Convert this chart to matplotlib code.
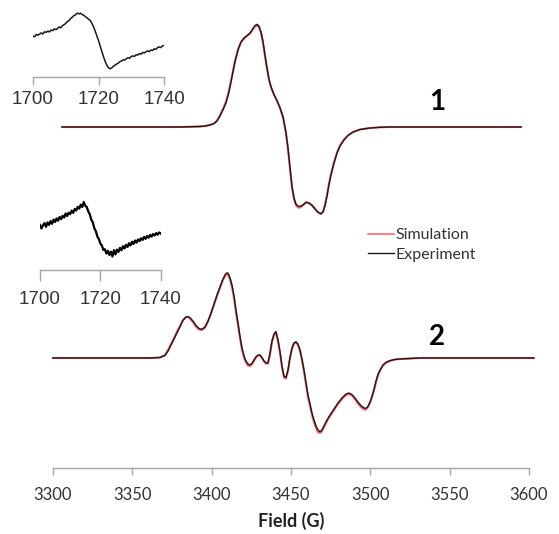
import matplotlib
matplotlib.use("Agg")
import matplotlib.pyplot as plt
from matplotlib.lines import Line2D

W, H = 559, 534

# ---------------- data ----------------
# Spectrum 1 (field in G, intensity in arbitrary units relative to baseline)
field_1 = [3305.7, 3380.0, 3392.6, 3395.8, 3398.9, 3401.5, 3403.4, 3405.2, 3407.1, 3409.0,
           3410.9, 3412.8, 3414.7, 3416.6, 3418.5, 3420.4, 3422.3, 3424.2, 3426.1, 3427.3,
           3428.6, 3429.8, 3431.1, 3432.4, 3433.6, 3434.9, 3436.1, 3437.4, 3439.3, 3441.2,
           3443.1, 3445.0, 3446.8, 3448.1, 3449.4, 3450.6, 3451.9, 3453.1, 3454.4, 3455.7,
           3457.6, 3459.5, 3461.3, 3463.2, 3465.1, 3467.0, 3468.9, 3470.2, 3471.4, 3472.7,
           3473.9, 3475.2, 3477.1, 3479.0, 3480.9, 3483.4, 3485.9, 3489.1, 3493.5, 3499.8,
           3506.1, 3512.4, 3595.0]
exp_1 = [0, 0, 0.5, 1, 2, 3.5, 6, 11, 17, 24,
         35, 50, 65, 77, 85, 89, 91.5, 94, 98.5, 101.5,
         102.7, 101, 95, 85, 72, 59, 48, 40, 32, 26,
         19, 10, -5, -21, -41, -59, -71, -77, -79, -79.5,
         -78, -75.5, -76, -78.5, -82, -85.5, -87, -85, -79, -69,
         -58, -48, -36, -26, -19, -13, -8.5, -5, -2.5, -1,
         -0.3, 0, 0]
sim_1 = [0, 0, 0.5, 1, 2, 3.5, 6.5, 11.5, 18, 25,
         36, 51, 66, 77.5, 85, 88.5, 91, 93.5, 98, 100.5,
         101.5, 100, 94, 84, 71, 58, 47.5, 40, 32.5, 26.5,
         19, 9.5, -6, -22, -42, -60, -72, -78, -80.5, -80.5,
         -78, -75, -76, -78, -81.5, -85, -86.5, -84.5, -78, -68,
         -57, -47, -35.5, -25.5, -18.5, -12.5, -8.5, -5, -2.5, -1,
         -0.3, 0, 0]

# Spectrum 2
field_2 = [3300.0, 3361.1, 3367.4, 3370.6, 3372.5, 3374.4, 3376.3, 3378.1, 3380.0, 3381.9,
           3383.8, 3385.1, 3386.3, 3388.2, 3390.1, 3392.0, 3393.9, 3395.8, 3397.7, 3399.6,
           3401.5, 3403.4, 3405.3, 3407.1, 3409.0, 3410.3, 3411.6, 3412.8, 3414.1, 3415.3,
           3416.6, 3417.9, 3419.1, 3420.4, 3421.6, 3422.9, 3424.2, 3425.4, 3426.7, 3427.9,
           3429.2, 3430.5, 3431.7, 3433.0, 3434.2, 3435.5, 3436.8, 3438.0, 3439.3, 3440.5,
           3441.8, 3443.1, 3444.3, 3445.6, 3446.8, 3448.1, 3449.4, 3450.6, 3451.9, 3453.1,
           3454.4, 3455.7, 3456.9, 3458.2, 3459.5, 3460.7, 3462.0, 3463.2, 3464.5, 3465.8,
           3467.0, 3468.3, 3469.5, 3470.8, 3472.7, 3474.6, 3477.1, 3479.6, 3482.1, 3484.7,
           3486.6, 3488.4, 3490.3, 3492.2, 3494.1, 3496.0, 3497.3, 3498.5, 3499.8, 3501.0,
           3502.3, 3503.6, 3504.8, 3506.1, 3508.0, 3509.9, 3512.4, 3515.5, 3518.7, 3525.0,
           3531.3, 3603.0]
exp_2 = [0, 0, 0.5, 2.5, 7, 13, 19, 25, 31, 37.5,
         41, 41.3, 40.3, 37, 32.5, 29.5, 28.7, 31, 37, 45,
         54, 63, 71.3, 79, 84.7, 85, 80, 73, 62, 48,
         35, 21, 10, 2, -3, -6, -7, -5.5, -2, 1,
         3, 3, 0.5, -3, -5, -5, 5, 17, 24, 26.5,
         18, 6, -8, -18.5, -19.5, -12, 1, 10, 15, 16.3,
         14, 8, -1, -12, -25, -37, -46, -55, -62, -68,
         -72, -73.7, -72, -68, -62, -57, -51, -45, -40, -36,
         -35, -36.5, -40, -44, -47.5, -50, -50.3, -48.5, -44, -38.5,
         -31.5, -23, -16.5, -12, -7, -4.5, -2.7, -1.5, -1, -0.5,
         0, 0]
sim_2 = [0, 0, 0.5, 3, 8, 14, 20, 26, 32, 38,
         41, 41, 39.5, 36, 31.5, 28.5, 28, 30.5, 36.5, 44.5,
         53.5, 62.5, 70.5, 78, 83.5, 83.5, 78.5, 71, 60, 46,
         33, 19.5, 8.5, 0.5, -4.5, -7.5, -8, -6, -2.5, 0.5,
         2.5, 2.5, 0, -3.5, -5.5, -5.5, 4, 16, 23, 25.5,
         17, 5, -9, -19.5, -20.5, -13, 0, 9, 14.5, 15.5,
         13, 7, -2, -13.5, -27, -39, -48, -57, -64, -70,
         -74, -75, -73, -69, -63, -58, -52, -46, -41, -37,
         -36, -37.5, -41, -45.5, -49, -51.5, -51.5, -49, -45, -39.5,
         -32.5, -24, -17.5, -12.5, -7.5, -4.5, -2.7, -1.5, -1, -0.5,
         0, 0]

labels = ["Simulation", "Experiment"]
xticks_main = [3300, 3350, 3400, 3450, 3500, 3550, 3600]

# Inset 1 (signal near 1720 G, complex 1), 0.5 G steps from 1700 G
field_in1 = [1700 + 0.5 * i for i in range(81)]
exp_in1 = [41.0, 40.2, 42.6, 41.8, 42.9, 44.1, 43.0, 45.2, 44.6, 45.9,
           45.1, 47.0, 46.3, 48.2, 47.4, 48.6, 50.1, 49.2, 51.5, 52.3,
           53.6, 55.5, 56.4, 58.6, 59.8, 61.4, 62.2, 63.9, 63.1, 63.8,
           62.4, 61.9, 60.2, 59.3, 57.6, 56.4, 53.5, 50.2, 45.8, 41.1,
           36.5, 31.2, 25.8, 20.6, 15.9, 12.1, 9.4, 8.2, 9.0, 10.6,
           11.7, 12.9, 13.8, 15.3, 15.9, 17.2, 16.8, 18.4, 19.2, 18.7,
           20.5, 21.1, 20.6, 22.3, 21.9, 23.4, 22.8, 24.6, 24.0, 25.3,
           26.1, 25.4, 27.0, 26.5, 28.2, 27.6, 29.3, 30.1, 29.4, 31.0,
           31.6]
# Inset 2 (signal near 1720 G, complex 2)
field_in2 = [1700 + 0.5 * i for i in range(81)]
exp_in2 = [45.0, 41.5, 44.8, 46.9, 43.2, 47.5, 45.1, 49.0, 46.2, 50.4,
           48.0, 51.6, 49.3, 53.1, 50.8, 54.2, 52.4, 56.5, 54.0, 57.3,
           55.8, 59.4, 57.2, 61.0, 59.5, 63.2, 61.4, 65.3, 63.0, 68.0,
           64.2, 63.0, 58.6, 55.7, 50.3, 47.6, 41.8, 38.9, 33.5, 31.0,
           26.4, 24.5, 20.1, 20.8, 16.4, 19.2, 15.0, 18.3, 13.5, 19.8,
           15.6, 20.4, 18.0, 22.1, 19.7, 23.8, 21.5, 25.2, 23.0, 26.8,
           24.6, 28.3, 26.0, 29.5, 27.4, 30.6, 28.9, 31.8, 30.0, 33.1,
           31.2, 34.0, 32.3, 35.2, 33.4, 36.0, 34.5, 36.9, 35.3, 37.6,
           36.4]
xticks_inset = [1700, 1720, 1740]

# vertical offsets of the two stacked spectra
offset_1 = 341
offset_2 = 110

# ---------------- figure ----------------
fig = plt.figure(figsize=(W / 100, H / 100), dpi=100)
fig.patch.set_facecolor("white")


def rect(x0, x1, ytop, ybot):
    return [x0 / W, (H - ybot) / H, (x1 - x0) / W, (ybot - ytop) / H]


AX_GREY = "#a6a6a6"
TXT = "#333333"
RED = "#ff5a5a"
BLACK = "#1a1a1a"

ax = fig.add_axes(rect(53, 529, 10, 468))
ax.set_facecolor("none")
ax.plot(field_1, [v + offset_1 for v in sim_1], color=RED, lw=1.5, clip_on=False)
ax.plot(field_1, [v + offset_1 for v in exp_1], color=BLACK, lw=1.0, clip_on=False)
ax.plot(field_2, [v + offset_2 for v in sim_2], color=RED, lw=1.5, clip_on=False)
ax.plot(field_2, [v + offset_2 for v in exp_2], color=BLACK, lw=1.0, clip_on=False)
ax.set_xlim(3300, 3600)
ax.set_ylim(0, 458)
ax.set_xticks(xticks_main)
ax.set_xticklabels([str(t) for t in xticks_main], fontfamily="Lato", fontsize=12, color=TXT)
ax.set_yticks([])
for s in ["top", "right", "left"]:
    ax.spines[s].set_visible(False)
ax.spines["bottom"].set_color(AX_GREY)
ax.spines["bottom"].set_linewidth(1.0)
ax.tick_params(axis="x", direction="out", length=5, width=1.0, color=AX_GREY, pad=9)
ax.set_xlabel("Field (G)", fontfamily="Lato", fontweight="bold", fontsize=13,
              color="#222222", labelpad=6)

ax.text(3542, 366, "1", fontfamily="Lato", fontweight="bold", fontsize=20,
        ha="center", va="center", color="black")
ax.text(3542, 131, "2", fontfamily="Lato", fontweight="bold", fontsize=20,
        ha="center", va="center", color="black")

leg = ax.legend([Line2D([], [], color=RED, lw=1.1), Line2D([], [], color=BLACK, lw=1.0)],
                labels, loc="center left", bbox_to_anchor=(368 / W, (H - 245) / H),
                bbox_transform=fig.transFigure, frameon=False,
                prop={"family": "Lato", "size": 11.5}, handlelength=1.65,
                handletextpad=0.1, labelspacing=0.35, borderpad=0, borderaxespad=0)
for t in leg.get_texts():
    t.set_color(TXT)

# inset 1
a1 = fig.add_axes(rect(33, 164, 10, 77))
a1.set_facecolor("none")
a1.plot(field_in1, exp_in1, color=BLACK, lw=1.1)
a1.set_xlim(1700, 1740)
a1.set_ylim(0, 67)
# inset 2
a2 = fig.add_axes(rect(40, 160.7, 190, 270))
a2.set_facecolor("none")
a2.plot(field_in2, exp_in2, color="black", lw=1.6)
a2.set_xlim(1700, 1740)
a2.set_ylim(0, 80)

for a, pad, tl in [(a1, 4, 6), (a2, 7, 8)]:
    a.set_xticks(xticks_inset)
    a.set_xticklabels([str(t) for t in xticks_inset], fontfamily="Liberation Sans",
                      fontsize=13.5, color=TXT)
    a.set_yticks([])
    for s in ["top", "right", "left"]:
        a.spines[s].set_visible(False)
    a.spines["bottom"].set_color(AX_GREY)
    a.spines["bottom"].set_linewidth(1.0)
    a.tick_params(axis="x", direction="out", length=tl, width=1.0, color=AX_GREY, pad=pad)

fig.savefig("out.png", dpi=100)
